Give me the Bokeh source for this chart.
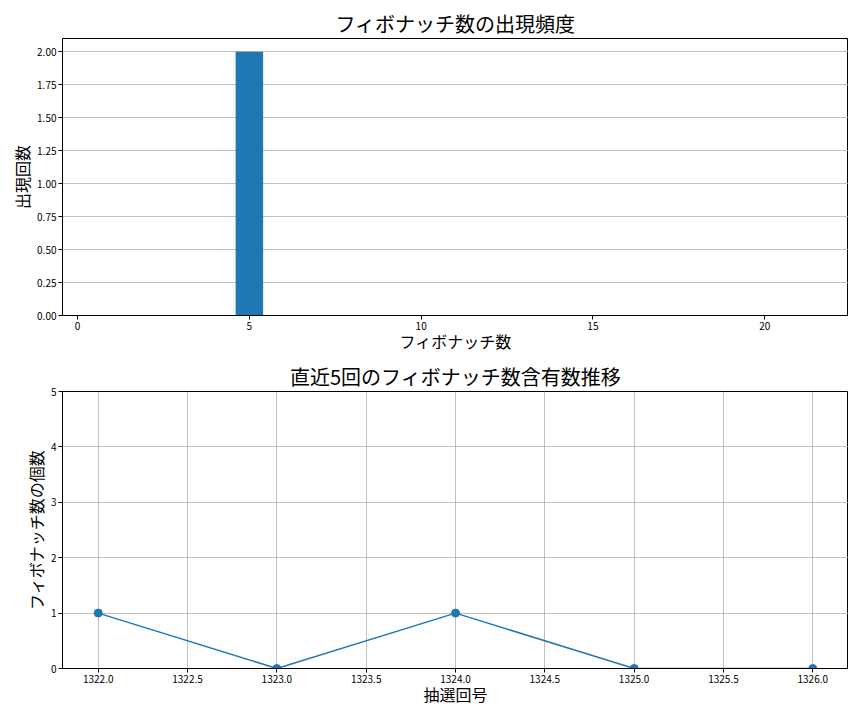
from bokeh.plotting import figure
from bokeh.layouts import column
from bokeh.models import FixedTicker, PrintfTickFormatter, Range1d
from bokeh.embed import file_html
from bokeh.resources import INLINE

# ---- data ----
fib_numbers = [1, 2, 3, 5, 8, 13, 21]
fib_counts = [0, 0, 0, 2, 0, 0, 0]

draw_ids = [1322, 1323, 1324, 1325, 1326]
fib_per_draw = [1, 0, 1, 0, 0]

top_x_ticks = [0, 5, 10, 15, 20]
top_y_ticks = [0, 0.25, 0.5, 0.75, 1.0, 1.25, 1.5, 1.75, 2.0]
bot_x_ticks = [1322.0, 1322.5, 1323.0, 1323.5, 1324.0, 1324.5, 1325.0, 1325.5, 1326.0]
bot_y_ticks = [0, 1, 2, 3, 4, 5]

FONT = "Noto Sans CJK JP"
BLUE = "#1f77b4"
GRID = "#b0b0b0"


def style(p, title, xlabel, ylabel):
    p.title.text = title
    p.title.align = "center"
    p.title.text_font = FONT
    p.title.text_font_size = "20px"
    p.title.text_font_style = "normal"
    p.title.text_color = "black"
    p.title.standoff = 2
    p.title.offset = 0
    p.outline_line_color = "black"
    p.outline_line_width = 1
    p.outline_line_alpha = 1
    p.background_fill_color = "white"
    p.border_fill_color = "white"
    p.xaxis.axis_label = xlabel
    p.yaxis.axis_label = ylabel
    for ax in (p.xaxis[0], p.yaxis[0]):
        ax.axis_label_text_font = FONT
        ax.axis_label_text_font_size = "16px"
        ax.axis_label_text_font_style = "normal"
        ax.axis_label_text_color = "black"
        ax.major_label_text_font = FONT
        ax.major_label_text_font_size = "10px"
        ax.major_label_text_color = "black"
        ax.axis_line_color = "black"
        ax.major_tick_line_color = "black"
        ax.major_tick_in = 0
        ax.major_tick_out = 4
        ax.minor_tick_line_color = None
        ax.major_label_standoff = 2
    p.xaxis.axis_label_standoff = -4
    p.yaxis.axis_label_standoff = 0
    p.yaxis.major_label_orientation = "horizontal"


# ---- top: frequency bars ----
p1 = figure(frame_width=786, frame_height=277, output_backend="svg", toolbar_location=None,
            x_range=Range1d(-0.44, 22.44), y_range=Range1d(0, 2.1),
            min_border_left=62, min_border_right=0, min_border_top=38,
            min_border_bottom=43)
p1.vbar(x=fib_numbers, top=fib_counts, width=0.8, fill_color=BLUE, line_color=None)
style(p1, "フィボナッチ数の出現頻度", "フィボナッチ数", "出現回数")
p1.xaxis.ticker = FixedTicker(ticks=top_x_ticks)
p1.yaxis.ticker = FixedTicker(ticks=top_y_ticks)
p1.yaxis.formatter = PrintfTickFormatter(format="%.2f")
p1.xgrid.grid_line_color = None
p1.ygrid.grid_line_color = GRID
p1.ygrid.grid_line_width = 0.8
p1.ygrid.ticker = FixedTicker(ticks=top_y_ticks)

# ---- bottom: recent draws line ----
p2 = figure(frame_width=786, frame_height=277, output_backend="svg", toolbar_location=None,
            x_range=Range1d(1321.8, 1326.2), y_range=Range1d(0, 5),
            min_border_left=62, min_border_right=0, min_border_top=27,
            min_border_bottom=42)
p2.line(draw_ids, fib_per_draw, line_color=BLUE, line_width=1.5)
p2.scatter(draw_ids, fib_per_draw, size=8, fill_color=BLUE, line_color=BLUE)
style(p2, "直近5回のフィボナッチ数含有数推移", "抽選回号", "フィボナッチ数の個数")
p2.xaxis.ticker = FixedTicker(ticks=bot_x_ticks)
p2.xaxis.formatter = PrintfTickFormatter(format="%.1f")
p2.yaxis.ticker = FixedTicker(ticks=bot_y_ticks)
p2.xgrid.grid_line_color = GRID
p2.ygrid.grid_line_color = GRID
p2.xgrid.grid_line_width = 0.8
p2.ygrid.grid_line_width = 0.8
p2.xgrid.ticker = FixedTicker(ticks=bot_x_ticks)
p2.ygrid.ticker = FixedTicker(ticks=bot_y_ticks)

layout = column(p1, p2, spacing=0)
open("out.html", "w").write(file_html(layout, INLINE))
